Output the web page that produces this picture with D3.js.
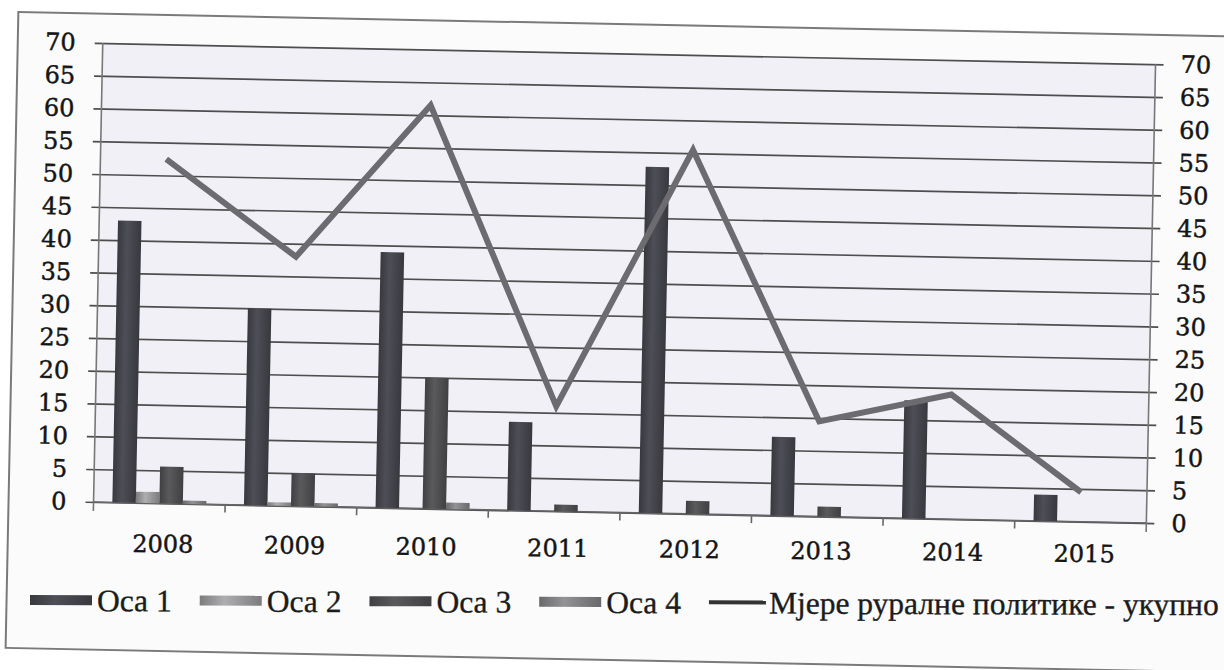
<!DOCTYPE html>
<html>
<head>
<meta charset="utf-8">
<script src="https://cdn.jsdelivr.net/npm/d3@7/dist/d3.min.js"></script>
<style>
  html, body { margin: 0; padding: 0; background: #ffffff; }
  svg { display: block; }
</style>
</head>
<body>
<svg id="chart" width="1224" height="670"></svg>
<script>
// ---- data ----
const years = ["2008", "2009", "2010", "2011", "2012", "2013", "2014", "2015"];
const oca1 = [43, 30, 39, 13.5, 52.8, 12, 18, 4];
const oca2 = [1.7, 0.5, 0, 0, 0, 0, 0, 0];
const oca3 = [5.6, 5, 20, 1, 2, 1.5, 0, 0];
const oca4 = [0.5, 0.5, 1, 0, 0, 0, 0, 0];
const total = [52.5, 38, 61.5, 16, 55.5, 14.5, 19, 4.5];
const yTicks = [0, 5, 10, 15, 20, 25, 30, 35, 40, 45, 50, 55, 60, 65, 70];
const seriesNames = ["Оса 1", "Оса 2", "Оса 3", "Оса 4"];
const lineName = "Мјере руралне политике - укупно";

const series = [oca1, oca2, oca3, oca4];
const colors = ["#45454d", "#9a9a9c", "#4f4f52", "#828284"];

const svg = d3.select("#chart");
const defs = svg.append("defs");
colors.forEach((c, i) => {
  const dark = d3.color(c).darker(0.6).formatHex();
  const light = d3.color(c).brighter(0.35).formatHex();
  const gr = defs.append("linearGradient").attr("id", "g" + i)
    .attr("x1", "0%").attr("x2", "100%").attr("y1", "0%").attr("y2", "0%");
  gr.append("stop").attr("offset", "0%").attr("stop-color", dark);
  gr.append("stop").attr("offset", "40%").attr("stop-color", light);
  gr.append("stop").attr("offset", "100%").attr("stop-color", dark);
});

const root = svg.append("g").attr("transform", "rotate(1.15,612,335)");

// frame
root.append("rect").attr("x", 12).attr("y", 24).attr("width", 1240).attr("height", 636)
  .attr("fill", "#fbfbfc").attr("stroke", "#7a7a7a").attr("stroke-width", 2);

const X0 = 97, X1 = 1150, YB = 512.3, YT = 53.3;

const x = d3.scaleBand().domain(years).range([X0, X1]).paddingInner(0).paddingOuter(0);
const bw = x.bandwidth();
const groupW = 94;
const xs = d3.scaleBand().domain(d3.range(4)).range([(bw - groupW) / 2, (bw + groupW) / 2]).padding(0);
const y = d3.scaleLinear().domain([0, 70]).range([YB, YT]);

const axisFont = t => t.attr("font-family", "DejaVu Serif").attr("font-size", 24)
  .attr("fill", "#151515").attr("stroke", "#151515").attr("stroke-width", 0.45);

// plot background
root.append("rect").attr("x", X0).attr("y", YT).attr("width", X1 - X0).attr("height", YB - YT)
  .attr("fill", "#f1f0f6");

// gridlines
const grid = root.append("g").attr("transform", `translate(${X1 + 8},0)`)
  .call(d3.axisLeft(y).tickValues(yTicks).tickSize(X1 - X0 + 16).tickFormat(""));
grid.select(".domain").remove();
grid.selectAll(".tick line").attr("stroke", "#4e4e4e").attr("stroke-width", 1.7);

// left axis labels
const axL = root.append("g").attr("transform", `translate(${X0},0)`)
  .call(d3.axisLeft(y).tickValues(yTicks).tickSize(0).tickPadding(27));
axL.select(".domain").remove();
axisFont(axL.selectAll("text"));

// right axis labels
const axR = root.append("g").attr("transform", `translate(${X1},0)`)
  .call(d3.axisRight(y).tickValues(yTicks).tickSize(0).tickPadding(25));
axR.select(".domain").remove();
axisFont(axR.selectAll("text"));

// vertical axis lines
[X0, X1].forEach(xx => {
  root.append("line").attr("x1", xx).attr("x2", xx).attr("y1", YT).attr("y2", YB + 9)
    .attr("stroke", "#777").attr("stroke-width", 1.6);
});

// bottom axis line and category boundary ticks
root.append("line").attr("x1", X0).attr("x2", X1).attr("y1", YB).attr("y2", YB)
  .attr("stroke", "#666").attr("stroke-width", 1.6);
root.append("g").selectAll("line").data(years.slice(1)).join("line")
  .attr("x1", d => x(d)).attr("x2", d => x(d)).attr("y1", YB).attr("y2", YB + 8)
  .attr("stroke", "#666").attr("stroke-width", 1.6);

// bottom axis labels (scan is less skewed here)
const labG = svg.append("g").attr("transform", "rotate(0.6,612,552)");
const axB = labG.append("g").attr("transform", "translate(0,540)")
  .call(d3.axisBottom(x).tickSize(0).tickPadding(0));
axB.select(".domain").remove();
axisFont(axB.selectAll("text"));

// bars
const barData = [];
years.forEach((yr, i) => series.forEach((s, k) => barData.push({ yr, k, v: s[i] })));
root.append("g").selectAll("rect").data(barData.filter(d => d.v > 0)).join("rect")
  .attr("x", d => x(d.yr) + xs(d.k))
  .attr("width", xs.bandwidth())
  .attr("y", d => y(d.v))
  .attr("height", d => y(0) - y(d.v))
  .attr("fill", d => `url(#g${d.k})`);

// line
const line = d3.line().x((d, i) => x(years[i]) + bw / 2).y(d => y(d)).curve(d3.curveLinear);
root.append("path").datum(total).attr("d", line)
  .attr("fill", "none").attr("stroke", "#6c6c70").attr("stroke-width", 6)
  .attr("stroke-linejoin", "miter");

// legend (nearly horizontal in the scan)
const leg = svg.append("g").attr("transform", "rotate(0.2,612,602) translate(30,602)");
let cx = 0;
const fs = 31.5;
const legFont = t => t.attr("font-family", "Liberation Serif").attr("font-size", fs)
  .attr("fill", "#1c1c1c").attr("stroke", "#1c1c1c").attr("stroke-width", 0.35);
seriesNames.forEach((name, k) => {
  leg.append("rect").attr("x", cx).attr("y", -5).attr("width", 62).attr("height", 10)
    .attr("fill", `url(#g${k})`);
  const t = leg.append("text").attr("x", cx + 67).attr("y", 0).attr("dy", "0.35em").text(name);
  legFont(t);
  cx += 67 + t.node().getComputedTextLength() + 28;
});
leg.append("line").attr("x1", cx).attr("x2", cx + 57).attr("y1", 0).attr("y2", 0)
  .attr("stroke", "#333").attr("stroke-width", 4);
legFont(leg.append("text").attr("x", cx + 60).attr("y", 0).attr("dy", "0.35em").text(lineName));
</script>
</body>
</html>
